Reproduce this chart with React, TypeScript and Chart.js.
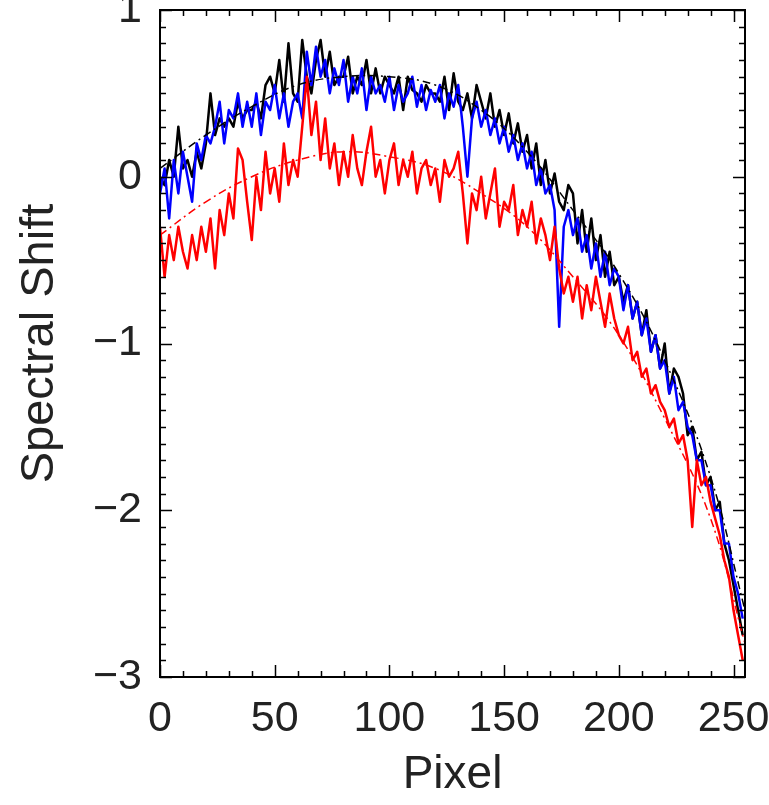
import React, { useEffect, useRef } from "react";
import { Chart, registerables } from "chart.js";

Chart.register(...registerables);

const pixels = [
  0, 2, 4, 6, 8, 10, 12, 14, 16, 18,
  20, 22, 24, 26, 28, 30, 32, 34, 36, 38,
  40, 42, 44, 46, 48, 50, 52, 54, 56, 58,
  60, 62, 64, 66, 68, 70, 72, 74, 76, 78,
  80, 82, 84, 86, 88, 90, 92, 94, 96, 98,
  100, 102, 104, 106, 108, 110, 112, 114, 116, 118,
  120, 122, 124, 126, 128, 130, 132, 134, 136, 138,
  140, 142, 144, 146, 148, 150, 152, 154, 156, 158,
  160, 162, 164, 166, 168, 170, 172, 174, 176, 178,
  180, 182, 184, 186, 188, 190, 192, 194, 196, 198,
  200, 202, 204, 206, 208, 210, 212, 214, 216, 218,
  220, 222, 224, 226, 228, 230, 232, 234, 236, 238,
  240, 242, 244, 246, 248, 250, 252, 254,
];

const blackShift = [
  0.0, -0.05, 0.1, 0.0, 0.3, 0.05, 0.1, 0.0, 0.15, 0.05,
  0.2, 0.5, 0.25, 0.35, 0.3, 0.35, 0.3, 0.45, 0.35, 0.4,
  0.4, 0.45, 0.35, 0.55, 0.6, 0.5, 0.7, 0.45, 0.8, 0.5,
  0.45, 0.82, 0.6, 0.5, 0.7, 0.82, 0.6, 0.75, 0.55, 0.6,
  0.6, 0.72, 0.5, 0.6, 0.55, 0.7, 0.5, 0.65, 0.5, 0.6,
  0.55, 0.5, 0.6, 0.4, 0.6, 0.52, 0.5, 0.45, 0.55, 0.5,
  0.5, 0.45, 0.6, 0.4, 0.62, 0.45, 0.4, 0.5, 0.35, 0.55,
  0.45, 0.35, 0.5, 0.3, 0.4, 0.25, 0.38, 0.2, 0.32, 0.15,
  0.25, 0.05, 0.2, -0.05, 0.1, -0.1, 0.02, -0.15, -0.2, -0.05,
  -0.1, -0.4, -0.2, -0.45, -0.25, -0.5, -0.35, -0.6, -0.45, -0.65,
  -0.6, -0.75, -0.65, -0.85, -0.75, -0.95, -0.8, -1.05, -0.95, -1.15,
  -1.0, -1.3, -1.15, -1.2, -1.3, -1.55, -1.5, -1.7, -1.65, -1.85,
  -1.8, -2.0, -1.95, -2.2, -2.3, -2.45, -2.6, -2.75,
];

const blueShift = [
  -0.1, 0.05, -0.25, 0.1, -0.1, 0.15, 0.0, -0.15, 0.2, 0.1,
  0.25, 0.2, 0.3, 0.45, 0.2, 0.4, 0.35, 0.5, 0.3, 0.45,
  0.3, 0.5, 0.25, 0.45, 0.4, 0.55, 0.35, 0.5, 0.3, 0.45,
  0.5, 0.35, 0.75, 0.55, 0.78, 0.6, 0.7, 0.5, 0.65, 0.55,
  0.7, 0.45, 0.6, 0.5, 0.65, 0.4, 0.6, 0.5, 0.55, 0.45,
  0.6, 0.4, 0.55, 0.45, 0.5, 0.6, 0.42, 0.55, 0.4, 0.52,
  0.45, 0.55, 0.35, 0.5, 0.42, 0.55, 0.3, 0.0, 0.35, 0.45,
  0.3, 0.4, 0.25, 0.35, 0.2, 0.3, 0.15, 0.25, 0.1, 0.2,
  0.05, 0.15, -0.05, 0.05, -0.1, -0.05, -0.2, -0.9, -0.3, -0.2,
  -0.35, -0.25, -0.45, -0.35, -0.55, -0.4, -0.6, -0.45, -0.65, -0.55,
  -0.6, -0.8, -0.65, -0.85, -0.75, -0.95, -0.85, -1.05, -0.95, -1.15,
  -1.1, -1.3, -1.2, -1.4, -1.35, -1.5, -1.55, -1.7, -1.7, -1.85,
  -1.85, -2.0, -2.0, -2.2, -2.2, -2.4, -2.5, -2.65,
];

const redShift = [
  -0.3, -0.6, -0.35, -0.5, -0.3, -0.45, -0.55, -0.35, -0.5, -0.3,
  -0.45, -0.25, -0.55, -0.2, -0.35, -0.1, -0.25, 0.17, 0.1, -0.15,
  -0.38, 0.0, -0.2, 0.15, -0.1, 0.05, -0.15, 0.2, -0.05, 0.1,
  0.0, 0.3, 0.6, 0.25, 0.45, 0.1, 0.35, 0.05, 0.2, -0.05,
  0.15, 0.0, 0.25, 0.05, -0.05, 0.15, 0.3, 0.0, 0.1, -0.1,
  0.1, 0.2, -0.05, 0.1, 0.0, 0.15, -0.1, 0.05, 0.1, -0.05,
  0.05, -0.15, 0.1, 0.0, 0.05, 0.15, -0.1, -0.4, -0.1, -0.2,
  0.0, -0.25, -0.1, 0.05, -0.3, -0.15, -0.2, -0.05, -0.35, -0.2,
  -0.3, -0.15, -0.4, -0.25, -0.35, -0.5, -0.3, -0.55, -0.7, -0.6,
  -0.75, -0.6, -0.85, -0.65, -0.8, -0.6, -0.75, -0.9, -0.7, -0.85,
  -0.95, -1.0, -0.9, -1.1, -1.05, -1.2, -1.15, -1.3, -1.25, -1.35,
  -1.4, -1.5, -1.45, -1.6, -1.55, -1.7, -2.1, -1.7, -1.85, -1.8,
  -1.95, -2.05, -2.15, -2.3, -2.4, -2.6, -2.75, -2.9,
];

const fitPixels = [0, 20, 40, 60, 80, 100, 120, 140, 160, 180, 200, 220, 240, 255];
const blackFit = [0.05, 0.25, 0.42, 0.55, 0.6, 0.6, 0.55, 0.4, 0.15, -0.2, -0.58, -1.1, -1.8, -2.6];
const redFit = [-0.35, -0.15, 0.0, 0.1, 0.15, 0.12, 0.05, -0.1, -0.3, -0.6, -0.95, -1.45, -2.05, -2.8];

const xTickLabels = [0, 50, 100, 150, 200, 250];
const yTickLabels = [-3, -2, -1, 0, 1];

const X_MIN = 0;
const X_MAX = 255;
const Y_MIN = -3;
const Y_MAX = 1;
const X_MAJOR = 50;
const X_MINOR = 10;
const Y_MAJOR = 1;
const Y_MINOR_COUNT = 10;

const FONT = "'Liberation Sans', Arial, Helvetica, sans-serif";

const toPoints = (xs: number[], ys: number[]) => ys.map((v, i) => ({ x: xs[i], y: v }));

const frameTicks = {
  id: "frameTicks",
  afterDatasetsDraw(chart: any) {
    const { ctx, chartArea, scales } = chart;
    const { left, right, top, bottom } = chartArea;
    const xs = scales.x;
    const ys = scales.y;
    ctx.save();
    ctx.strokeStyle = "#000";
    ctx.lineWidth = 1.5;
    ctx.beginPath();
    for (let v = X_MIN; v <= X_MAX; v += X_MINOR) {
      const px = Math.round(xs.getPixelForValue(v)) + 0.5;
      const len = v % X_MAJOR === 0 ? 12 : 6;
      ctx.moveTo(px, bottom);
      ctx.lineTo(px, bottom - len);
      ctx.moveTo(px, top);
      ctx.lineTo(px, top + len);
    }
    const steps = (Y_MAX - Y_MIN) * Y_MINOR_COUNT;
    for (let i = 0; i <= steps; i++) {
      const v = Y_MIN + (i * Y_MAJOR) / Y_MINOR_COUNT;
      const py = Math.round(ys.getPixelForValue(v)) + 0.5;
      const len = i % Y_MINOR_COUNT === 0 ? 12 : 6;
      ctx.moveTo(left, py);
      ctx.lineTo(left + len, py);
      ctx.moveTo(right, py);
      ctx.lineTo(right - len, py);
    }
    ctx.stroke();
    ctx.lineWidth = 2;
    ctx.strokeRect(left, top, right - left, bottom - top);
    ctx.restore();
  },
};

const zeroPadding = (s: any) => {
  s.paddingLeft = 0;
  s.paddingRight = 0;
  s.paddingTop = 0;
  s.paddingBottom = 0;
};

export default function App() {
  const canvasRef = useRef<HTMLCanvasElement | null>(null);

  useEffect(() => {
    const canvas = canvasRef.current;
    if (!canvas) return;
    const lineBase = {
      fill: false,
      pointRadius: 0,
      tension: 0,
      borderJoinStyle: "round" as const,
    };
    const chart = new Chart(canvas, {
      type: "line",
      data: {
        datasets: [
          {
            ...lineBase,
            label: "Fit (black)",
            data: toPoints(fitPixels, blackFit),
            borderColor: "#000000",
            borderWidth: 1.5,
            borderDash: [8, 4, 2, 4],
            tension: 0.4,
          },
          {
            ...lineBase,
            label: "Fit (red)",
            data: toPoints(fitPixels, redFit),
            borderColor: "#ff0000",
            borderWidth: 1.5,
            borderDash: [8, 4, 2, 4],
            tension: 0.4,
          },
          {
            ...lineBase,
            label: "Red",
            data: toPoints(pixels, redShift),
            borderColor: "#ff0000",
            borderWidth: 2.5,
          },
          {
            ...lineBase,
            label: "Blue",
            data: toPoints(pixels, blueShift),
            borderColor: "#0000ff",
            borderWidth: 2.5,
          },
          {
            ...lineBase,
            label: "Black",
            data: toPoints(pixels, blackShift),
            borderColor: "#000000",
            borderWidth: 2.5,
          },
        ],
      },
      options: {
        animation: false,
        responsive: false,
        devicePixelRatio: 1,
        layout: { padding: { left: 0, right: 24, top: 10, bottom: 0 } },
        plugins: { legend: { display: false }, tooltip: { enabled: false } },
        scales: {
          x: {
            type: "linear",
            min: X_MIN,
            max: X_MAX,
            grid: { display: false, drawTicks: false },
            border: { display: false },
            afterBuildTicks: (s: any) => {
              s.ticks = xTickLabels.map((v) => ({ value: v }));
            },
            ticks: {
              autoSkip: false,
              maxRotation: 0,
              color: "#222",
              padding: 16,
              font: { family: FONT, size: 43 },
              callback: (v: any) => String(v),
            },
            title: {
              display: true,
              text: "Pixel",
              color: "#222",
              font: { family: FONT, size: 46 },
              padding: { top: 0, bottom: 2 },
            },
            afterFit: (s: any) => {
              s.height = 128;
              zeroPadding(s);
            },
          },
          y: {
            type: "linear",
            min: Y_MIN,
            max: Y_MAX,
            grid: { display: false, drawTicks: false },
            border: { display: false },
            afterBuildTicks: (s: any) => {
              s.ticks = yTickLabels.map((v) => ({ value: v }));
            },
            ticks: {
              color: "#222",
              padding: 18,
              font: { family: FONT, size: 43 },
              callback: (v: any) => (Number(v) < 0 ? "\u2212" + Math.abs(Number(v)) : String(v)),
            },
            title: {
              display: true,
              text: "Spectral Shift",
              color: "#222",
              font: { family: FONT, size: 47 },
              padding: { top: 12, bottom: 0 },
            },
            afterFit: (s: any) => {
              s.width = 160;
              zeroPadding(s);
            },
          },
        },
      },
      plugins: [frameTicks],
    });
    return () => chart.destroy();
  }, []);

  return (
    <div style={{ position: "absolute", left: 0, top: 0, width: 769, height: 805, background: "#fff" }}>
      <canvas ref={canvasRef} width={769} height={805} />
    </div>
  );
}
